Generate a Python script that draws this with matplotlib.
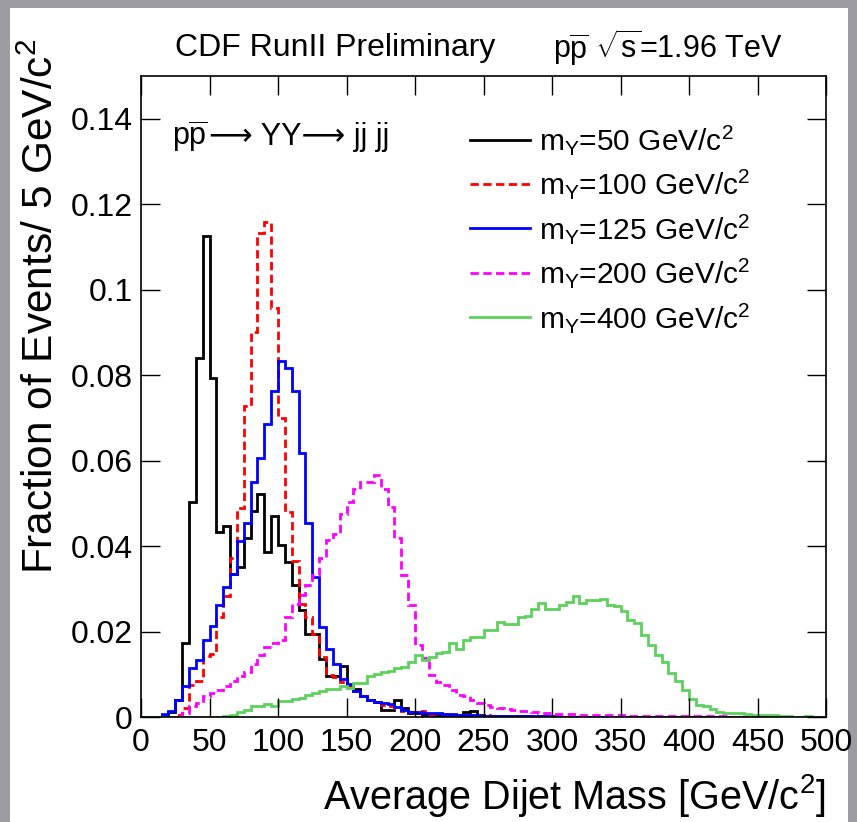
import numpy as np
import matplotlib
matplotlib.use('Agg')
import matplotlib.pyplot as plt
from matplotlib.patches import Rectangle

plt.rcParams['font.family'] = ['Liberation Sans', 'DejaVu Sans']
plt.rcParams['mathtext.fontset'] = 'custom'
plt.rcParams['mathtext.rm'] = 'Liberation Sans'
plt.rcParams['mathtext.it'] = 'Liberation Sans:italic'
plt.rcParams['mathtext.bf'] = 'Liberation Sans:bold'

# 5 GeV bins from 0 to 500
edges = np.arange(0, 505, 5)

m50 = [0, 0, 0, 0.0003, 0.0012, 0.004, 0.0172, 0.0504, 0.0841, 0.1125,
       0.0794, 0.0433, 0.0446, 0.0335, 0.0352, 0.0418, 0.0481, 0.0522, 0.0387, 0.047,
       0.0403, 0.0363, 0.0309, 0.025, 0.0195, 0.0195, 0.0136, 0.0097, 0.0097, 0.012,
       0.0074, 0.0066, 0.0048, 0.004, 0.0036, 0.0017, 0.0017, 0.004, 0.002, 0.001,
       0.0009, 0.0005, 0.0005, 0.0005, 0.0004, 0.0004, 0.0004, 0.0012, 0.0015, 0.0004,
       0.0003, 0.0002, 0.0002, 0.0002, 0.0002, 0.0002, 0.0001, 0.0001, 0.0001, 0.0001,
       0.0001, 0.0001, 0.0001, 0, 0, 0, 0, 0, 0, 0,
       0, 0, 0, 0, 0, 0, 0, 0, 0, 0,
       0, 0, 0, 0, 0, 0, 0, 0, 0, 0,
       0, 0, 0, 0, 0, 0, 0, 0, 0, 0]

m100 = [0, 0, 0, 0, 0, 0.0005, 0.002, 0.0075, 0.0085, 0.0142,
        0.0148, 0.0235, 0.0282, 0.0372, 0.049, 0.0727, 0.09, 0.1133, 0.1158, 0.0958,
        0.07, 0.048, 0.0365, 0.0265, 0.0235, 0.0195, 0.014, 0.0098, 0.0094, 0.0083,
        0.007, 0.0062, 0.0049, 0.004, 0.0036, 0.0028, 0.0026, 0.002, 0.0013, 0.0012,
        0.0009, 0.0014, 0.0008, 0.0007, 0.0006, 0.0005, 0.0005, 0.0004, 0.0004, 0.0003,
        0.0004, 0.0002, 0.0002, 0.0002, 0.0002, 0.0002, 0.0002, 0.0002, 0.0002, 0.0002,
        0.0002, 0.0001, 0.0001, 0.0001, 0.0001, 0.0001, 0.0001, 0.0001, 0.0001, 0.0001,
        0.0001, 0.0001, 0, 0, 0, 0, 0, 0, 0, 0,
        0, 0, 0, 0, 0, 0, 0, 0, 0, 0,
        0, 0, 0, 0, 0, 0, 0, 0, 0, 0]

m125 = [0, 0, 0, 0.0008, 0.0014, 0.004, 0.0072, 0.0115, 0.0134, 0.018,
        0.0212, 0.0263, 0.0305, 0.0335, 0.0413, 0.0455, 0.055, 0.0607, 0.0686, 0.0763,
        0.0834, 0.0816, 0.0763, 0.0617, 0.0454, 0.0328, 0.0211, 0.016, 0.0124, 0.009,
        0.0077, 0.0062, 0.0049, 0.004, 0.0036, 0.0032, 0.003, 0.0024, 0.0016, 0.0012,
        0.0011, 0.001, 0.001, 0.0009, 0.0008, 0.0008, 0.0005, 0.0005, 0.0004, 0.0003,
        0.0002, 0.0002, 0.0002, 0.0002, 0.0002, 0.0002, 0.0002, 0.0002, 0.0002, 0.0002,
        0.0002, 0.0001, 0.0001, 0.0001, 0.0001, 0.0001, 0.0001, 0.0001, 0.0001, 0.0001,
        0.0001, 0.0001, 0.0001, 0.0001, 0, 0, 0, 0, 0, 0,
        0, 0, 0, 0, 0, 0, 0, 0, 0, 0,
        0, 0, 0, 0, 0, 0, 0, 0, 0, 0]

m200 = [0, 0, 0, 0, 0, 0.0003, 0.001, 0.0025, 0.0033, 0.0048,
        0.0056, 0.0064, 0.0073, 0.0084, 0.0095, 0.0105, 0.0123, 0.0144, 0.0164, 0.0172,
        0.0181, 0.0235, 0.0265, 0.0285, 0.031, 0.0332, 0.0371, 0.0414, 0.0429, 0.0476,
        0.0503, 0.0534, 0.055, 0.055, 0.0566, 0.0534, 0.0492, 0.0418, 0.0332, 0.0262,
        0.0168, 0.0137, 0.0098, 0.0083, 0.0075, 0.0063, 0.0051, 0.0048, 0.004, 0.0032,
        0.0028, 0.0024, 0.002, 0.0018, 0.0016, 0.0014, 0.0013, 0.0012, 0.001, 0.0009,
        0.0008, 0.0008, 0.0007, 0.0006, 0.0005, 0.0004, 0.0004, 0.0004, 0.0004, 0.0004,
        0.0004, 0.0002, 0.0002, 0.0002, 0.0002, 0.0002, 0.0002, 0.0002, 0.0002, 0.0002,
        0.0002, 0.0002, 0.0002, 0.0002, 0.0002, 0.0002, 0.0001, 0.0001, 0.0001, 0.0001,
        0.0001, 0.0001, 0.0001, 0.0001, 0.0001, 0.0001, 0.0001, 0.0001, 0.0001, 0.0001]

m400 = [0, 0, 0, 0, 0, 0, 0, 0, 0, 0,
        0, 0, 0.0002, 0.0005, 0.0012, 0.0017, 0.0025, 0.0025, 0.0031, 0.0026,
        0.0037, 0.0037, 0.0042, 0.0045, 0.0052, 0.0056, 0.006, 0.0065, 0.0065, 0.0073,
        0.0069, 0.0079, 0.008, 0.0095, 0.01, 0.0105, 0.0107, 0.0114, 0.0118, 0.0129,
        0.0145, 0.0133, 0.0141, 0.0149, 0.0153, 0.0172, 0.016, 0.018, 0.0188, 0.0188,
        0.0203, 0.0203, 0.0223, 0.0217, 0.0217, 0.0233, 0.0236, 0.0252, 0.0266, 0.0252,
        0.0252, 0.0263, 0.0268, 0.0283, 0.0266, 0.0273, 0.0273, 0.0276, 0.0263, 0.0259,
        0.0248, 0.0227, 0.022, 0.0192, 0.0168, 0.0145, 0.0129, 0.0102, 0.0085, 0.0063,
        0.0041, 0.0028, 0.0026, 0.0018, 0.0012, 0.0009, 0.0009, 0.0009, 0.0006, 0.0005,
        0.0004, 0.0004, 0.0004, 0.0002, 0.0002, 0.0001, 0.0001, 0.0002, 0.0001, 0.0001]

labels = [r'm$_{\mathregular{Y}}$=50 GeV/c$^{\mathregular{2}}$',
          r'm$_{\mathregular{Y}}$=100 GeV/c$^{\mathregular{2}}$',
          r'm$_{\mathregular{Y}}$=125 GeV/c$^{\mathregular{2}}$',
          r'm$_{\mathregular{Y}}$=200 GeV/c$^{\mathregular{2}}$',
          r'm$_{\mathregular{Y}}$=400 GeV/c$^{\mathregular{2}}$']
colors = ['black', '#ff0000', '#0000ff', '#ff00ff', '#5cd25c']
styles = ['-', (0, (3, 1.6)), '-', (0, (3, 1.6)), '-']

yticks = [0, 0.02, 0.04, 0.06, 0.08, 0.1, 0.12, 0.14]
ytick_labels = ['0', '0.02', '0.04', '0.06', '0.08', '0.1', '0.12', '0.14']
xticks = [0, 50, 100, 150, 200, 250, 300, 350, 400, 450, 500]

fig = plt.figure(figsize=(8.57, 8.22), dpi=100)
fig.patch.set_facecolor('#9c9ca2')
# white slide area behind everything
fig.patches.append(Rectangle((10/857, 0), 838/857, 1 - 8/822, transform=fig.transFigure,
                             facecolor='white', edgecolor='none', zorder=-10))

ax = fig.add_axes([141/857, 1 - 717/822, 685/857, (717 - 76)/822])
ax.set_zorder(1)

for vals, c, ls, lab in zip([m50, m100, m125, m200, m400], colors, styles, labels):
    ax.stairs(vals, edges, color=c, linestyle=ls, linewidth=2.0, label=lab)

ax.set_xlim(0, 500)
ax.set_ylim(0, 0.15)
ax.set_xticks(xticks)
ax.set_yticks(yticks)
ax.set_yticklabels(ytick_labels)
ax.tick_params(direction='in', top=True, right=True, length=14, width=1.0,
               labelsize=23, pad=6)
ax.tick_params(axis='x', pad=8)
for sp in ax.spines.values():
    sp.set_linewidth(1.2)

# process label: pp-bar (mathtext) followed by plain text with long arrows
t1 = ax.text(0.045, 0.905, r'p$\mathregular{\overline{p}}$', transform=ax.transAxes,
             fontsize=22, va='center', ha='left')
ax.annotate('⟶ YY⟶ jj jj', xy=(1, 0.5), xycoords=t1, xytext=(1, 0),
            textcoords='offset points', fontsize=22, va='center', ha='left',
            family=['Liberation Sans', 'DejaVu Sans'])

leg = ax.legend(loc='upper left', bbox_to_anchor=(0.48, 0.927), frameon=False,
                borderpad=0, borderaxespad=0, fontsize=21.5, handlelength=2.0,
                labelspacing=0.35, handletextpad=0.33)

fig.text(826/857, 1 - 795/822, r'Average Dijet Mass [GeV/c$^{\mathregular{2}}$]',
         ha='right', va='center', fontsize=28.5)
fig.text(42/857, 1 - 38/822, r'Fraction of Events/ 5 GeV/c$^{\mathregular{2}}$',
         rotation=90, rotation_mode='anchor', ha='right', va='center', fontsize=30.5)
fig.text(175/857, 1 - 48/822, 'CDF RunII Preliminary', ha='left', va='center', fontsize=23)
fig.text(553/857, 1 - 48/822, r'$\mathregular{p\overline{p}}$ $\mathregular{\sqrt{s}}$=1.96 TeV',
         ha='left', va='center', fontsize=22)

fig.savefig('out.png', dpi=100)
